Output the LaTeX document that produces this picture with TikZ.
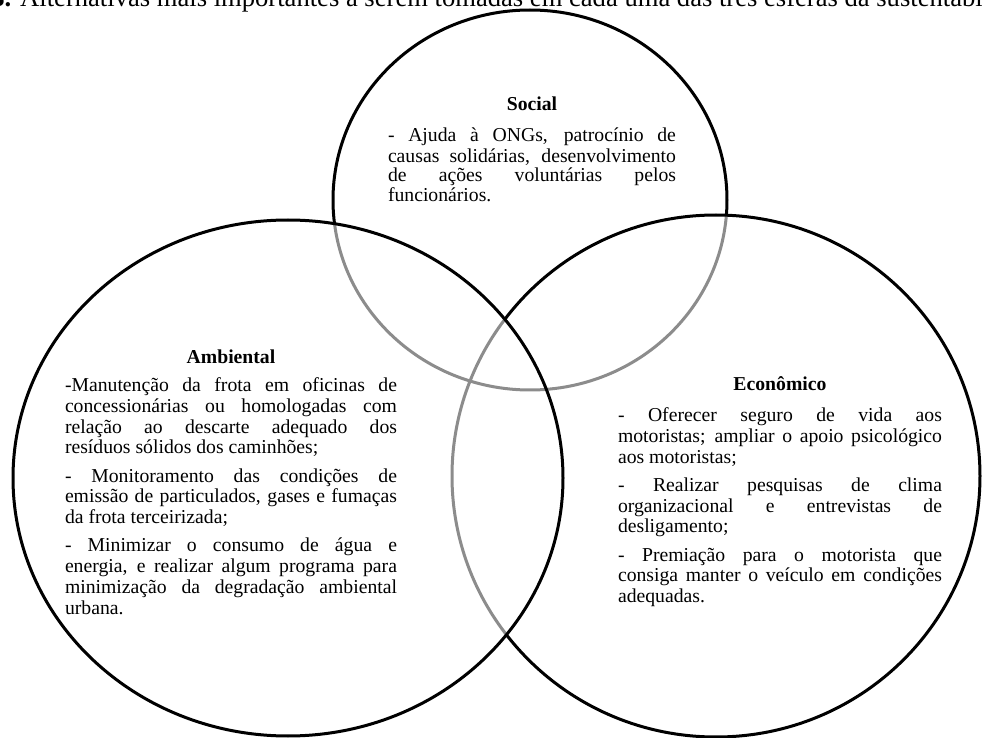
\documentclass[tikz,border=0pt]{standalone}
\usepackage{fontspec}
\setmainfont{Liberation Serif}
\usetikzlibrary{positioning}

\newcommand{\elSocial}{(c-soc) ellipse [x radius=197, y radius=190]}
\newcommand{\elAmbiental}{(c-amb) ellipse [x radius=275, y radius=258]}
\newcommand{\elEconomico}{(c-eco) ellipse [x radius=264, y radius=261]}

\begin{document}
\begin{tikzpicture}[
    x=0.5pt, y=-0.5pt,
    contorno/.style={draw=black, line width=1.5pt},
    oculto/.style={draw=black!45, line width=1.5pt},
    titulo/.style={font=\bfseries\fontsize{9.85}{10.4}\selectfont, inner sep=0pt, anchor=base},
    bloco/.style={text width=#1, align=justify, inner sep=0pt, font=\fontsize{9.85}{10.4}\selectfont,
        execute at begin node={\parindent=0pt\parskip=3.7pt\hyphenpenalty=10000\exhyphenpenalty=10000\tolerance=10000}},
    legenda/.style={font=\fontsize{13.3}{15}\selectfont, inner sep=0pt, anchor=base west}
]

\useasboundingbox (0,0) rectangle (982,738);
\clip (0,0) rectangle (982,738);

% Caption, cut by the top edge
\node[legenda] (legenda) at (-9,7) {\textbf{3.} Alternativas mais importantes a serem tomadas em cada uma das três esferas da sustentabilidade};

% Centres of the three spheres
\coordinate (c-soc) at (530,200);
\coordinate (c-amb) at (288,478);
\coordinate (c-eco) at (716,476);

% Social circle
\draw[contorno] \elSocial;

% Economico circle over the social one
\fill[white] \elEconomico;
\begin{scope}
    \clip \elEconomico;
    \draw[oculto] \elSocial;
\end{scope}
\draw[contorno] \elEconomico;

% Ambiental circle on top
\fill[white] \elAmbiental;
\begin{scope}
    \clip \elAmbiental;
    \draw[oculto] \elSocial;
    \draw[oculto] \elEconomico;
\end{scope}
\draw[contorno] \elAmbiental;

% Titles
\node[titulo] (soc-tit) at (532,111) {Social};
\node[titulo] (amb-tit) at (231,364) {Ambiental};
\node[titulo] (eco-tit) at (780,391) {Econômico};

% Texts
\node[bloco=144pt, font=\fontsize{9.85}{9.6}\selectfont, below=7.8pt of soc-tit] (soc-txt) {\strut - Ajuda à ONGs, patrocínio de\linebreak
causas solidárias, desenvolvimento\linebreak
de ações voluntárias pelos\linebreak
funcionários.};

\node[bloco=166pt, below=6pt of amb-tit] (amb-txt) {\strut -Manutenção da frota em oficinas de\linebreak
concessionárias ou homologadas com\linebreak
relação ao descarte adequado dos\linebreak
resíduos sólidos dos caminhões;\par
- Monitoramento das condições de\linebreak
emissão de particulados, gases e fumaças\linebreak
da frota terceirizada;\par
- Minimizar o consumo de água e\linebreak
energia, e realizar algum programa para\linebreak
minimização da degradação ambiental\linebreak
urbana.};

\node[bloco=162pt, below=7.5pt of eco-tit] (eco-txt) {\strut - Oferecer seguro de vida aos\linebreak
motoristas; ampliar o apoio psicológico\linebreak
aos motoristas;\par
- Realizar pesquisas de clima\linebreak
organizacional e entrevistas de\linebreak
desligamento;\par
- Premiação para o motorista que\linebreak
consiga manter o veículo em condições\linebreak
adequadas.};

\end{tikzpicture}
\end{document}
